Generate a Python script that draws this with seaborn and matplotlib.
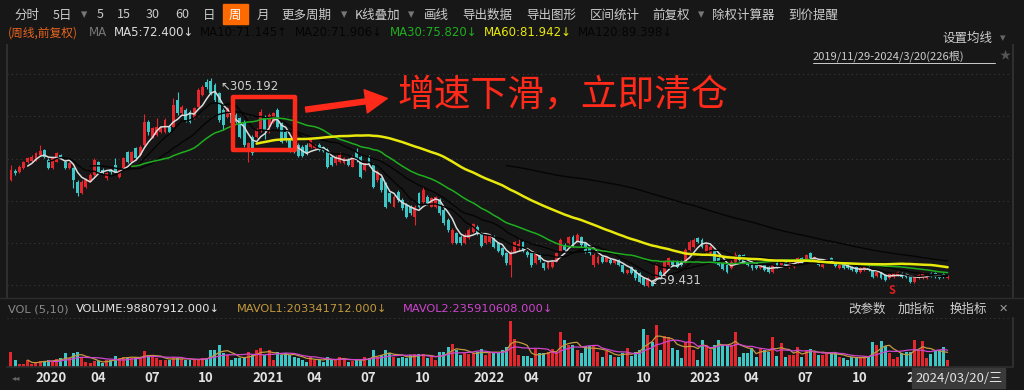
import numpy as np
import pandas as pd
import matplotlib
matplotlib.use("Agg")
import matplotlib.pyplot as plt
import matplotlib.transforms as mtransforms
from matplotlib.patches import Rectangle
import seaborn as sns

# weekly K line, 2019/11/29 - 2024/3/20, 226 bars (前复权)
open_px = [
    185.3, 195.8, 195, 199, 206, 207, 208.8, 214.7, 220.5, 208.8, 199, 206.8, 214.7, 206.8, 199, 199,
    183.3, 169.6, 177.4, 183.3, 191.1, 206, 197, 187.2, 197, 203, 189.2, 199, 217.8, 206.8, 222.5, 214.7,
    226.4, 253.9, 236.2, 238.2, 242.1, 242.1, 247.9, 247.9, 279.3, 263.6, 267.5, 265.6, 257.7, 271.5, 285.2, 300.9,
    302, 296.9, 287.1, 267.5, 259.7, 265.6, 261.7, 257.7, 253.8, 220.5, 236.2, 235.4, 244, 259.7, 247.9, 253.8,
    267.5, 251.9, 242.1, 232.3, 228.3, 226.4, 224.4, 226.4, 224.4, 222.5, 226.4, 224.4, 220.5, 212.7, 204.8, 206.8,
    204.8, 208.7, 200.9, 218.5, 212.7, 197, 212.7, 202.9, 185.2, 187.2, 181.3, 169.5, 153.9, 171.5, 161.7, 155.8,
    153.9, 142.1, 169.5, 159.7, 165.6, 153.9, 153.9, 161.7, 149.9, 138.2, 110.7, 122.5, 118.6, 110.7, 116.6, 124.5,
    130.3, 122.5, 110.7, 112.7, 118.6, 110.7, 104.9, 99, 85.3, 100, 106, 112.7, 101, 99, 87.3, 97,
    87.3, 81.4, 83.3, 89.2, 101, 108.8, 110.8, 118.6, 112.7, 118.6, 110.8, 104.9, 85.3, 87.3, 95.1, 89.2,
    91.2, 87.3, 91.2, 85.3, 75.5, 83.3, 79.4, 75.5, 69.6, 61, 65.7, 69.6, 77.5, 73.5, 85.3, 89.2,
    89.2, 89.2, 89.2, 103, 106.9, 116.7, 114.7, 101, 99, 103, 93.1, 87.3, 85.3, 81.4, 89.2, 97,
    97, 91.2, 85.3, 87.3, 81.4, 85.3, 83.3, 77.5, 87.3, 85.3, 89.2, 83.3, 83.3, 87.3, 93.1, 91.2,
    99, 91.2, 89.2, 83.3, 88.4, 93.1, 87.3, 81.4, 86.1, 85.3, 83.3, 83.3, 77.5, 79.4, 83.3, 79.4,
    72.8, 77.5, 73.5, 69.6, 71.6, 73.5, 75.5, 74.3, 71.6, 65.7, 69.6, 69.6, 69.6, 75.5, 75.5, 73.5,
    74.3, 70.4,
]
close_px = [
    197, 193.1, 201, 206, 211, 212.7, 216.6, 219.4, 212.7, 199, 210.7, 216.6, 211.9, 199, 204.9, 185.3,
    169.6, 183.3, 185.3, 191.1, 208.8, 195, 193.9, 193.1, 194.3, 195, 197, 210.7, 206.8, 217.8, 210.7, 224.5,
    253.9, 242.1, 246, 248, 248, 255.8, 242.1, 273.4, 263.6, 271.5, 255.8, 253.8, 269.5, 291.1, 295, 294.2,
    287.1, 279.3, 255.8, 249.9, 269.5, 252.6, 253.8, 236.2, 226.4, 228.3, 216.6, 244, 265.6, 244, 261.7, 263.6,
    247.9, 230.3, 232.3, 220.5, 218.5, 213.4, 213.4, 216.6, 232.3, 226.4, 220.5, 219.7, 200.9, 202.9, 212.7, 214.6,
    210.7, 202.9, 212.7, 208.7, 189.1, 204.8, 202.9, 177.4, 195, 173.5, 153.9, 159.7, 165.6, 161.7, 151.9, 142.1,
    146, 153.9, 153.9, 173.5, 157.8, 163.7, 165.6, 146, 134.3, 126.4, 126.4, 111.5, 110.7, 120.5, 126.4, 133.5,
    122.5, 107.6, 120.5, 120.5, 106.8, 101.7, 97, 87.2, 101, 112, 110, 103, 97, 85.3, 99, 91.2,
    81.4, 89.2, 89.2, 99, 114.7, 103, 118.6, 108.8, 120.6, 108.8, 101, 99, 97, 95.1, 89.2, 95.1,
    87.3, 91.2, 85.3, 77.5, 79.4, 75.5, 69.6, 65.7, 62, 69.6, 61, 85.3, 69.6, 89.2, 93.1, 85.3,
    83.3, 85.3, 103, 112.7, 114.7, 112.7, 106.9, 108.8, 106.9, 89.2, 85.3, 80.6, 77.5, 89.2, 97, 91.2,
    89.2, 85.3, 81.4, 81.4, 85.3, 79.4, 77.5, 85.3, 83.3, 89.2, 85.3, 87.3, 87.3, 93.1, 89.2, 97,
    93.1, 95.1, 85.3, 87.3, 91.2, 89.2, 84.1, 85.3, 81.4, 81.4, 79.4, 77.5, 81.4, 83.3, 79.4, 71.6,
    76.7, 70.4, 67.7, 74.3, 75.5, 76.7, 71.6, 71.6, 65.7, 71.6, 73.5, 74.3, 73.5, 72.8, 71.6, 70.5,
    72.5, 72.8,
]
high_px = [
    202.9, 198.2, 203, 207.6, 212.7, 214.7, 218.6, 226.4, 221.7, 210.7, 212.7, 217.8, 216.2, 208.8, 206.8, 201,
    185.3, 185.3, 187.2, 193.1, 210.7, 207.6, 199, 195, 198.2, 210.7, 198.2, 212.3, 219.4, 219.4, 224.1, 226.4,
    262.5, 255.8, 248, 257.8, 249.2, 257.7, 249.9, 281.3, 289.1, 273.4, 269.5, 267.5, 271.5, 293, 297, 303.6,
    305.192, 298.9, 289.1, 269.5, 271.5, 267.5, 263.6, 259.7, 255.8, 230.3, 238.1, 246, 268.3, 261.7, 264.4, 265.6,
    269.5, 253.8, 244, 234.2, 230.3, 228.3, 226.4, 228.3, 234.2, 227.6, 228.3, 225.2, 222.5, 214.6, 214.6, 218.5,
    212.7, 210.7, 214.6, 222.5, 214.6, 206.8, 214.6, 204.8, 197, 189.1, 183.3, 171.5, 167.6, 173.5, 163.7, 157.8,
    155.8, 155.8, 171.5, 178.2, 167.6, 165.6, 166.4, 163.7, 151.9, 140.1, 128.4, 124.5, 120.5, 122.5, 128.4, 135,
    132.3, 124.5, 121.7, 121.7, 120.5, 112.7, 106, 100.2, 103, 114, 116.7, 114.7, 103, 101, 101, 99,
    89.2, 91.2, 91.2, 101, 117.4, 110.8, 119.8, 120.6, 122.5, 119.8, 112.7, 106.9, 99, 97, 97, 96.3,
    93.1, 92.4, 92.4, 86.5, 80.6, 84.5, 80.6, 76.7, 71.6, 71.6, 67.7, 87.3, 79.4, 91.2, 95.1, 91.2,
    91.2, 91.2, 104.9, 114.7, 116.7, 118.6, 116.7, 110.8, 108.8, 104.9, 95.1, 89.2, 86.5, 90.8, 100.2, 98.6,
    98.6, 93.1, 86.9, 88.4, 86.5, 86.5, 84.5, 86.5, 88.4, 90.4, 90.4, 88.4, 88.4, 94.3, 94.3, 98.2,
    101, 96.3, 90.4, 88.4, 92.4, 94.3, 88.4, 86.5, 87.3, 86.5, 84.5, 84.5, 82.6, 84.5, 84.5, 80.6,
    77.9, 78.6, 74.7, 75.5, 76.7, 78.2, 76.7, 75.5, 72.8, 72.8, 74.7, 77.5, 74.7, 76.7, 76.7, 74.7,
    75.5, 74,
]
low_px = [
    184.1, 191.1, 194, 198, 205, 206, 208, 213.9, 210.7, 197.8, 198.2, 206, 210.7, 198.2, 198.2, 176.2,
    166.8, 168.4, 176.2, 182.5, 190.4, 193.1, 191.9, 185.3, 192.7, 194.3, 188, 198.2, 204.9, 206, 209.2, 213.9,
    224.5, 238.2, 235, 237.4, 240.1, 240.9, 240.1, 247.2, 261.7, 261.7, 253.8, 251.9, 256.6, 270.7, 284, 291.8,
    285.2, 277.3, 253.8, 244, 257.7, 251.1, 251.9, 234.2, 224.4, 206.8, 214.6, 234.2, 242.1, 233, 240.1, 252.6,
    246, 228.3, 230.3, 218.5, 216.6, 211.9, 212.7, 214.6, 222.5, 221.3, 219.3, 218.5, 198.9, 201.7, 202.9, 205.6,
    204, 201.7, 200.1, 206.8, 187.2, 196.2, 201.7, 175.4, 183.3, 171.5, 151.9, 157.8, 153.1, 159.7, 149.9, 140.1,
    144.1, 132.3, 151.9, 157.8, 155.8, 153.1, 151.9, 144.1, 132.3, 124.5, 110, 110, 108.8, 110, 115.4, 123.3,
    120.5, 106, 110, 111.5, 104.9, 100.2, 95.8, 85.3, 71.6, 99, 101.8, 101, 95.1, 83.3, 86.1, 89.2,
    79.4, 80.6, 82.2, 88.4, 100.2, 101, 109.6, 106.9, 112, 106.9, 99, 97, 83.3, 86.1, 87.3, 88.4,
    86.1, 86.1, 84.1, 76.3, 74.3, 74.3, 67.7, 63.7, 61, 59.431, 60, 68.5, 68.5, 72.4, 84.1, 84.1,
    82.2, 84.1, 88, 101.8, 105.7, 111.6, 105.7, 99.8, 97.8, 88, 84.1, 79.4, 76.3, 80.2, 88, 90,
    88, 84.1, 79.8, 80.2, 80.2, 78.2, 76.3, 76.3, 82.2, 84.1, 84.1, 82.2, 82.2, 86.1, 88, 90,
    92, 90, 84.1, 82.2, 87.3, 88, 83, 80.2, 80.2, 80.2, 78.2, 76.3, 76.3, 78.2, 78.2, 70.4,
    71.6, 69.2, 66.5, 68.5, 70.4, 72.4, 70.4, 70.4, 64.5, 64.5, 68.5, 68.5, 68.5, 71.6, 70.4, 68.5,
    70.4, 69.2,
]
# weekly volume, millions of shares
volume_m = [
    207, 101, 46, 46, 101, 46, 78, 92, 87, 101, 87, 110, 124, 193, 124, 202,
    207, 147, 78, 55, 92, 87, 55, 101, 101, 161, 133, 147, 124, 133, 147, 124,
    230, 170, 147, 124, 101, 101, 101, 147, 124, 110, 101, 101, 110, 110, 124, 124,
    239, 239, 308, 193, 170, 101, 124, 124, 147, 207, 170, 239, 262, 170, 239, 101,
    216, 170, 193, 170, 147, 124, 101, 78, 147, 101, 101, 78, 147, 101, 101, 147,
    110, 78, 92, 101, 101, 147, 124, 239, 147, 170, 239, 193, 147, 124, 147, 124,
    170, 179, 179, 179, 124, 147, 101, 216, 216, 285, 322, 239, 170, 193, 184, 193,
    216, 248, 170, 193, 216, 216, 239, 285, 644, 386, 170, 156, 156, 124, 248, 193,
    193, 216, 248, 216, 492, 377, 308, 308, 239, 193, 294, 294, 294, 216, 147, 225,
    170, 147, 147, 193, 262, 156, 216, 239, 524, 446, 354, 584, 239, 432, 423, 262,
    239, 124, 354, 469, 239, 101, 377, 308, 239, 308, 377, 308, 308, 308, 492, 147,
    193, 193, 262, 147, 262, 239, 216, 414, 156, 331, 147, 170, 170, 276, 147, 239,
    248, 216, 170, 170, 193, 193, 193, 147, 124, 101, 147, 147, 147, 124, 147, 354,
    308, 368, 294, 193, 110, 147, 193, 216, 216, 377, 239, 368, 124, 184, 239, 239,
    276, 98.8,
]
ma_windows = [5, 10, 20, 30, 60, 120]
ma_colors = ["#dcdcdc", "#050505", "#050505", "#1fae1f", "#e8e80c", "#050505"]
ma_widths = [1.1, 1.0, 1.0, 1.1, 1.8, 1.0]
ma_labels = ["MA5:72.400↓", "MA10:71.145↑", "MA20:71.906↓", "MA30:75.820↓", "MA60:81.942↓", "MA120:89.398↓"]
vol_labels = ["VOLUME:98807912.000↓", "MAVOL1:203341712.000↓", "MAVOL2:235910608.000↓"]
toolbar = ["分时", "5日", "▾", "5", "15", "30", "60", "日", "周", "月", "更多周期", "▾", "K线叠加", "▾",
           "画线", "导出数据", "导出图形", "区间统计", "前复权", "▾", "除权计算器", "到价提醒"]
toolbar_x = [14, 53, 81, 97, 117, 146, 175, 203, 229, 257, 281, 341, 355, 408,
             424, 462, 526, 590, 652, 698, 712, 788]

BG = "#171717"
UP = "#e5262c"
DOWN = "#3cc6c6"
LATIN = ["DejaVu Sans", "Noto Sans CJK SC"]

df = pd.DataFrame({"open": open_px, "close": close_px, "high": high_px, "low": low_px, "vol": volume_m})
df["idx"] = np.arange(len(df))
dates = pd.date_range("2019-11-29", periods=len(df) - 1, freq="7D").append(pd.DatetimeIndex(["2024-03-20"]))
for w in ma_windows:
    df[f"ma{w}"] = df["close"].rolling(w).mean()
df["mavol1"] = df["vol"].rolling(5).mean()
df["mavol2"] = df["vol"].rolling(10).mean()
up = df["close"] >= df["open"]
colors = np.where(up, UP, DOWN)

sns.set_theme(style="dark", rc={"axes.facecolor": BG, "figure.facecolor": BG})
plt.rcParams["font.family"] = ["Noto Sans CJK SC", "DejaVu Sans"]

fig = plt.figure(figsize=(10.24, 3.9), dpi=100)


def px_axes(l, t, w, h):
    return fig.add_axes([l / 1024, 1 - (t + h) / 390, w / 1024, h / 390])


def ftext(x, y, s, **kw):
    kw.setdefault("va", "center")
    kw.setdefault("ha", "left")
    return fig.text(x / 1024, 1 - y / 390, s, **kw)


xlim = (-0.96, 240.7)

# ---- price pane
ax = px_axes(7, 45, 1006, 252)
ax.vlines(df["idx"], df["low"], df["high"], colors=colors, lw=0.8, zorder=2)
body = (df["close"] - df["open"]).abs().clip(lower=0.6)
ax.bar(df["idx"], body, bottom=df[["open", "close"]].min(axis=1), width=0.7, color=colors, lw=0, zorder=3)
for w, c, lw in zip(ma_windows, ma_colors, ma_widths):
    sns.lineplot(data=df, x="idx", y=f"ma{w}", ax=ax, color=c, lw=lw, estimator=None, legend=False, zorder=4)
ax.set_xlim(*xlim)
ax.set_ylim(47.6, 344.0)
ax.set_yticks(np.arange(62, 320, 49.5))
ax.grid(axis="y", color="#3a3a3a", ls=(0, (1, 3)), lw=0.8)
ax.set_xticks([])
ax.tick_params(left=False, labelleft=False, bottom=False, labelbottom=False)
ax.set_xlabel("")
ax.set_ylabel("")
for s in ax.spines.values():
    s.set_visible(False)
ax.spines["left"].set_visible(True)
ax.spines["left"].set_color("#333333")
ax.spines["right"].set_visible(True)
ax.spines["right"].set_color("#333333")

# highlight box + arrow
ax.add_patch(Rectangle((53.3, 220.5), 14.9, 62.4, fill=False, ec="#ff2a1a", lw=3.2, joinstyle="round", zorder=6))
ax.annotate("", xy=(390, 390 - 98), xytext=(303, 390 - 110), xycoords="figure pixels",
            arrowprops=dict(arrowstyle="simple,head_length=1.3,head_width=1.4,tail_width=0.3",
                            fc="#ff2a1a", ec="#ff2a1a", mutation_scale=12))
ftext(397, 96, "增速下滑，立即清仓", color="#ff2a1a", fontsize=26.5)
ftext(220, 87, "↖305.192", color="#cfcfcf", fontsize=8.5, family=LATIN)
ftext(650, 280, "↙59.431", color="#cfcfcf", fontsize=8.5, family=LATIN)
ftext(889, 291, "S", color="#e02020", fontsize=8, fontweight="bold")

# ---- volume pane
axv = px_axes(7, 318, 1006, 49.3)
axv.bar(df["idx"], df["vol"], width=0.72, color=colors, lw=0)
sns.lineplot(data=df, x="idx", y="mavol1", ax=axv, color="#c39a3c", lw=0.9, estimator=None, legend=False)
sns.lineplot(data=df, x="idx", y="mavol2", ax=axv, color="#cf45cf", lw=0.9, estimator=None, legend=False)
axv.set_xlim(*xlim)
axv.set_ylim(0, 680)
axv.set_yticks([680])
axv.grid(axis="y", color="#3a3a3a", ls=(0, (1, 3)), lw=0.8)
axv.set_xticks([])
axv.tick_params(left=False, labelleft=False, bottom=False, labelbottom=False)
axv.set_xlabel("")
axv.set_ylabel("")
for s in axv.spines.values():
    s.set_visible(False)
axv.spines["right"].set_visible(True)
axv.spines["right"].set_color("#333333")
axv.spines["bottom"].set_visible(True)
axv.spines["bottom"].set_color("#2c2c2c")

# x labels (first week of Jan/Apr/Jul/Oct); the last one is mostly hidden by the date box
trans = mtransforms.blended_transform_factory(axv.transData, fig.transFigure)
prev = None
for i, d in enumerate(dates):
    if d.month in (1, 4, 7, 10) and d.month != prev:
        lab = str(d.year) if d.month == 1 else f"{d.month:02d}"
        if i > 210:
            lab = lab[0]
        axv.text(i + 1, 1 - 378 / 390, lab, transform=trans, color="#e2e2e2", fontsize=9.5,
                 fontweight="bold", va="center", ha="left")
    prev = d.month
fig.patches.append(Rectangle((912 / 1024, 1 - 388 / 390), 93 / 1024, 20 / 390, transform=fig.transFigure,
                             color="#3a3a3a", zorder=5))
ftext(915, 378, "2024/03/20/三", color="#e2e2e2", fontsize=9.5, zorder=6)
ftext(12, 378, "◂◂", color="#666666", fontsize=6)

# ---- header rows
fig.patches.append(Rectangle((223 / 1024, 1 - 24 / 390), 25 / 1024, 20 / 390, transform=fig.transFigure,
                             color="#ff6a00", zorder=1))
for s, x in zip(toolbar, toolbar_x):
    c = "#777777" if s == "▾" else ("#ffffff" if s == "周" else "#cccccc")
    ftext(x, 15, s, color=c, fontsize=9, zorder=2)

ftext(8, 33, "(周线,前复权)", color="#e8641e", fontsize=8.5)
ftext(89, 33, "MA", color="#777777", fontsize=8.5, family=LATIN)
for s, x, c in zip(ma_labels, [114, 200, 295, 390, 484, 578], ma_colors):
    ftext(x, 33, s, color=c, fontsize=8.5, family=LATIN)
ftext(942, 38, "设置均线", color="#cccccc", fontsize=9)
ftext(1000, 38, "▾", color="#666666", fontsize=8)
ftext(813, 56, "2019/11/29-2024/3/20(226根)", color="#cccccc", fontsize=8)
fig.add_artist(plt.Line2D([813 / 1024, 995 / 1024], [1 - 63 / 390] * 2, color="#cccccc", lw=0.7))
ftext(1000, 55, "★", color="#555555", fontsize=8)

ftext(8, 309, "VOL (5,10)", color="#8a8a8a", fontsize=8.2, family=LATIN)
for s, x, c in zip(vol_labels, [76, 237, 403], ["#e6e6e6", "#c39a3c", "#cf45cf"]):
    ftext(x, 309, s, color=c, fontsize=8.2, family=LATIN)
for s, x in zip(["改参数", "加指标", "换指标"], [848, 898, 950]):
    ftext(x, 309, s, color="#cccccc", fontsize=9)
ftext(999, 309, "✕", color="#999999", fontsize=8, family=LATIN)

fig.add_artist(plt.Line2D([0, 1], [1 - 298 / 390] * 2, color="#2c2c2c", lw=1))

fig.savefig("out.png", dpi=100, facecolor=BG)
